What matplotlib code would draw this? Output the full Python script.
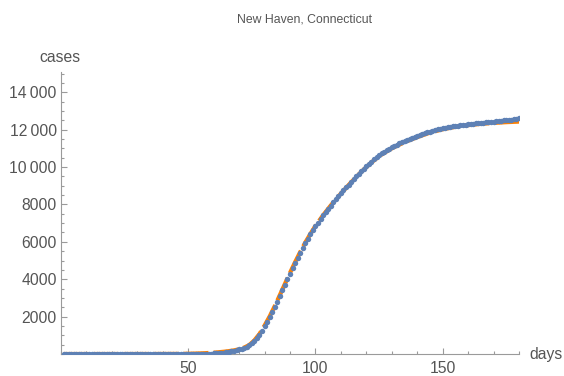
import matplotlib
matplotlib.use("Agg")
import matplotlib.pyplot as plt
from matplotlib.ticker import MultipleLocator, FixedLocator, FuncFormatter

plt.rcParams['font.family'] = ['Liberation Sans', 'DejaVu Sans']

title = "New Haven, Connecticut"
x_label = "days"
y_label = "cases"

# observed cumulative cases, days 1..180
days = list(range(1, 181))
cases = [0] * 50 + [
    2, 3, 4, 5, 7, 9, 12, 16, 21, 28,            # 51-60
    36, 46, 58, 73, 90, 110, 135, 165, 205, 250,  # 61-70
    290, 340, 400, 480, 580, 700, 860, 1040, 1250, 1480,   # 71-80
    1720, 1970, 2230, 2510, 2800, 3100, 3400, 3700, 4000, 4300,  # 81-90
    4590, 4870, 5150, 5420, 5680, 5930, 6170, 6400, 6620, 6830,  # 91-100
    7030, 7220, 7410, 7590, 7770, 7940, 8110, 8280, 8440, 8600,  # 101-110
    8760, 8910, 9060, 9210, 9360, 9500, 9640, 9780, 9910, 10040,  # 111-120
    10170, 10290, 10410, 10520, 10630, 10730, 10820, 10900, 10980, 11060,  # 121-130
    11130, 11200, 11260, 11320, 11380, 11440, 11500, 11560, 11620, 11670,  # 131-140
    11720, 11770, 11820, 11860, 11900, 11940, 11980, 12010, 12040, 12070,  # 141-150
    12100, 12130, 12150, 12170, 12190, 12210, 12230, 12250, 12270, 12290,  # 151-160
    12300, 12320, 12330, 12350, 12360, 12380, 12390, 12410, 12420, 12430,  # 161-170
    12450, 12460, 12480, 12490, 12510, 12520, 12540, 12560, 12590, 12630,  # 171-180
]

# fitted curve
fit_days = [1, 10, 20, 30, 40, 45, 50, 52, 54, 56, 58, 60, 62, 64, 66, 68, 70, 72, 74,
            76, 78, 80, 82, 84, 86, 88, 90, 92, 94, 96, 98, 100, 103, 106, 110, 114,
            118, 122, 126, 130, 135, 140, 145, 150, 155, 160, 165, 170, 175, 180]
fit_cases = [0, 0, 0, 1, 3, 6, 15, 22, 30, 40, 55, 72, 95, 122, 155, 195, 255, 345, 480,
             730, 1070, 1520, 2010, 2560, 3150, 3750, 4340, 4910, 5450, 5960, 6420, 6850,
             7420, 7940, 8580, 9180, 9740, 10250, 10670, 11000, 11330, 11600, 11840,
             12020, 12150, 12240, 12310, 12360, 12400, 12430]

x_major = [50, 100, 150]
y_major = [2000, 4000, 6000, 8000, 10000, 12000, 14000]

W, H = 564, 376
fig = plt.figure(figsize=(W / 100, H / 100), dpi=100)
L, R, B, T = 61, 519, 354, 71.7
ax = fig.add_axes([L / W, 1 - B / H, (R - L) / W, (B - T) / H])

gray_txt = '#555555'
gray_ax = '#9a9a9a'

ax.plot(fit_days, fit_cases, color='#FF8000', lw=3.0, linestyle=(0, (6, 1.2)),
        zorder=2, solid_capstyle='butt')
ax.plot(days, cases, linestyle='none', marker='o', markersize=3.9,
        markerfacecolor='#5E81B5', markeredgecolor='#5E81B5', markeredgewidth=0,
        zorder=3)

ax.set_xlim(0, 180)
ax.set_ylim(0, 15100)

for s in ['top', 'right']:
    ax.spines[s].set_visible(False)
for s in ['left', 'bottom']:
    ax.spines[s].set_color(gray_ax)
    ax.spines[s].set_linewidth(0.8)

ax.xaxis.set_major_locator(FixedLocator(x_major))
ax.xaxis.set_minor_locator(MultipleLocator(10))
ax.yaxis.set_major_locator(FixedLocator(y_major))
ax.yaxis.set_minor_locator(MultipleLocator(500))


def fmt(v, pos):
    v = int(round(v))
    if v >= 10000:
        s = f"{v:d}"
        return s[:-3] + "\u2009" + s[-3:]
    return f"{v:d}"


ax.yaxis.set_major_formatter(FuncFormatter(fmt))

ax.tick_params(axis='both', which='major', direction='in', length=4, width=0.8,
               color=gray_ax, labelcolor=gray_txt, labelsize=11.3)
ax.tick_params(axis='both', which='minor', direction='in', length=2.3, width=0.8,
               color=gray_ax)
ax.tick_params(axis='x', which='major', pad=5)
ax.tick_params(axis='y', which='major', pad=3)

fig.text(304.5 / W, 1 - 20 / H, title, ha='center', va='center', fontsize=8.8,
         color=gray_txt)
fig.text(60 / W, 1 - 57 / H, y_label, ha='center', va='center', fontsize=11.3,
         color=gray_txt)
fig.text(529 / W, 1 - 354 / H, x_label, ha='left', va='center', fontsize=11.3,
         color=gray_txt)

fig.savefig('out.png', dpi=100)
